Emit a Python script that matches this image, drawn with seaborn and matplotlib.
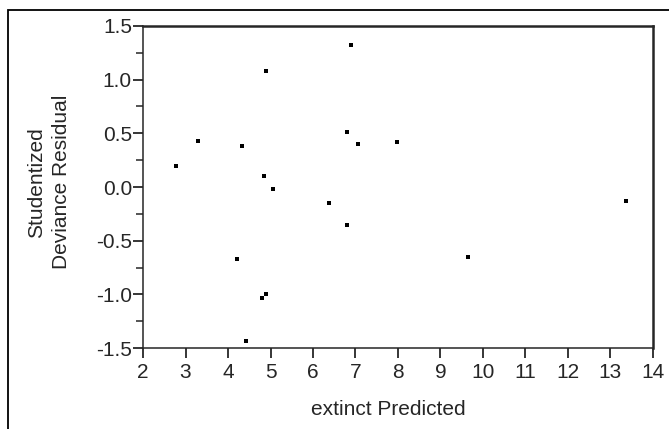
import matplotlib

matplotlib.use("Agg")
import matplotlib.pyplot as plt
import pandas as pd
import seaborn as sns
from matplotlib.patches import Rectangle
from matplotlib.ticker import MultipleLocator

# values
predicted = [6.90, 4.90, 6.81, 3.29, 4.33, 7.07, 7.98, 2.77, 4.855,
             5.07, 6.38, 6.81, 4.20, 4.90, 4.81, 4.42, 13.37, 9.64]
residual = [1.32, 1.08, 0.515, 0.43, 0.38, 0.40, 0.416, 0.20, 0.10,
            -0.02, -0.15, -0.35, -0.67, -1.00, -1.035, -1.435, -0.133, -0.65]
x_ticks = list(range(2, 15))
y_ticks = [-1.5, -1.0, -0.5, 0.0, 0.5, 1.0, 1.5]

df = pd.DataFrame({"extinct Predicted": predicted, "residual": residual})

sns.set_style("ticks")
plt.rcParams["font.family"] = ["Liberation Sans", "DejaVu Sans"]
plt.rcParams["font.size"] = 15

fig = plt.figure(figsize=(6.69, 4.29), dpi=100)
ax = fig.add_axes([0.2138, 0.1888, 0.7622, 0.7506])

sns.scatterplot(data=df, x="extinct Predicted", y="residual", ax=ax,
                marker="s", s=8, color="black", linewidth=0)

ax.set_xlim(2, 14)
ax.set_ylim(-1.5, 1.5)
ax.set_xticks(x_ticks)
ax.set_yticks(y_ticks)
ax.set_yticklabels([f"{v:.1f}" for v in y_ticks])
ax.yaxis.set_minor_locator(MultipleLocator(0.25))
ax.tick_params(axis="both", which="major", length=7, width=1.1,
               labelsize=15, color="black")
ax.tick_params(axis="x", which="major", pad=4)
ax.tick_params(axis="y", which="major", pad=1)
ax.tick_params(axis="y", which="minor", length=5, width=1.1)

for side in ["left", "bottom"]:
    ax.spines[side].set_linewidth(1.1)
for side in ["top", "right"]:
    ax.spines[side].set_visible(True)
    ax.spines[side].set_linewidth(1.8)

ax.set_xlabel("extinct Predicted", fontsize=15)
ax.set_ylabel("Studentized\nDeviance Residual", fontsize=15, linespacing=1.35)
ax.xaxis.set_label_coords(0.482, -0.162)
ax.yaxis.set_label_coords(-0.142, 0.515)

# outer frame of the report panel
fig.patches.append(Rectangle((8 / 669, -0.1), 1.2, 1 - 10 / 429 + 0.1,
                             transform=fig.transFigure, fill=False,
                             edgecolor="black", linewidth=1.3))

fig.savefig("out.png", dpi=100)
